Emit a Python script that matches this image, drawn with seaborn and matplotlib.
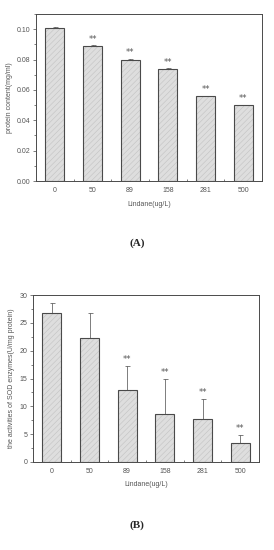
import numpy as np
import pandas as pd
import seaborn as sns
from matplotlib import pyplot as plt
from matplotlib.patches import Rectangle
from matplotlib.ticker import AutoMinorLocator, MultipleLocator

doses = ["0", "50", "89", "158", "281", "500"]
protein = [0.101, 0.089, 0.080, 0.074, 0.056, 0.050]
protein_err = [0.0003, 0.0003, 0.0003, 0.0003, 0.0003, 0.0003]
protein_sig = ["", "**", "**", "**", "**", "**"]
sod = [26.7, 22.2, 13.0, 8.7, 7.8, 3.4]
sod_err = [1.9, 4.6, 4.3, 6.2, 3.5, 1.5]
sod_sig = ["", "", "**", "**", "**", "**"]

sns.set_style("ticks")
plt.rcParams["font.family"] = ["Liberation Sans", "DejaVu Sans"]
plt.rcParams["hatch.linewidth"] = 0.4

FS = 5
GRAY = "#555555"
EDGE = "#4a4a4a"


def panel(ax, values, errors, stars, ylim, major, ylabel, label_x):
    df = pd.DataFrame({"dose": doses, "value": values})
    sns.barplot(data=df, x="dose", y="value", ax=ax, color="#dedede",
                width=0.5, edgecolor="#c2c2c2", linewidth=0,
                errorbar=None, saturation=1)
    for p in list(ax.patches):
        p.set_hatch("//////")
        ax.add_patch(Rectangle(p.get_xy(), p.get_width(), p.get_height(),
                               fill=False, edgecolor=EDGE, linewidth=0.8,
                               zorder=p.get_zorder() + 0.1))
    pos = np.arange(len(values))
    ax.errorbar(pos, values, yerr=[np.zeros(len(values)), errors],
                fmt="none", ecolor=EDGE, elinewidth=0.5,
                capsize=1.8, capthick=0.5)
    for x, v, e, s in zip(pos, values, errors, stars):
        if s:
            ax.text(x, v + e + ylim[1] * 0.01, s, ha="center", va="bottom",
                    fontsize=6, color=GRAY, family=["DejaVu Sans"])
    ax.set_xlim(-0.5, 5.5)
    ax.set_ylim(*ylim)
    ax.yaxis.set_major_locator(MultipleLocator(major))
    ax.yaxis.set_minor_locator(AutoMinorLocator(2))
    ax.xaxis.set_minor_locator(MultipleLocator(0.5))
    ax.tick_params(axis="both", which="major", labelsize=FS, length=2,
                   width=0.5, colors=EDGE, labelcolor=GRAY, pad=2)
    ax.tick_params(axis="x", which="major", pad=4)
    ax.tick_params(axis="both", which="minor", length=1.2, width=0.5,
                   colors=EDGE)
    ax.tick_params(axis="x", which="both", direction="in")
    for sp in ax.spines.values():
        sp.set_visible(True)
        sp.set_linewidth(0.7)
        sp.set_color(EDGE)
    ax.set_xlabel("Lindane(ug/L)", fontsize=FS, color=GRAY, labelpad=5)
    ax.set_ylabel(ylabel, fontsize=FS, color=GRAY)
    ax.yaxis.set_label_coords(label_x, 0.5)


fig = plt.figure(figsize=(2.74, 5.5), dpi=100)
ax_a = fig.add_axes([36 / 274, 1 - 181 / 550, 226 / 274, 167 / 550])
ax_b = fig.add_axes([33 / 274, 1 - 462 / 550, 226 / 274, 167 / 550])

panel(ax_a, protein, protein_err, protein_sig, (0, 0.11), 0.02,
      "protein content(mg/ml)", -0.10)
ax_a.yaxis.set_major_formatter(plt.FuncFormatter(lambda v, _: f"{v:.2f}"))
panel(ax_b, sod, sod_err, sod_sig, (0, 30), 5,
      "the activities of SOD enzymes(U/mg protein)", -0.08)

fig.text(137 / 274, 1 - 243 / 550, "(A)", ha="center", va="center",
         fontsize=8, fontweight="bold", family=["Liberation Serif"])
fig.text(137 / 274, 1 - 525 / 550, "(B)", ha="center", va="center",
         fontsize=8, fontweight="bold", family=["Liberation Serif"])

fig.savefig("out.png", dpi=100, facecolor="white")
